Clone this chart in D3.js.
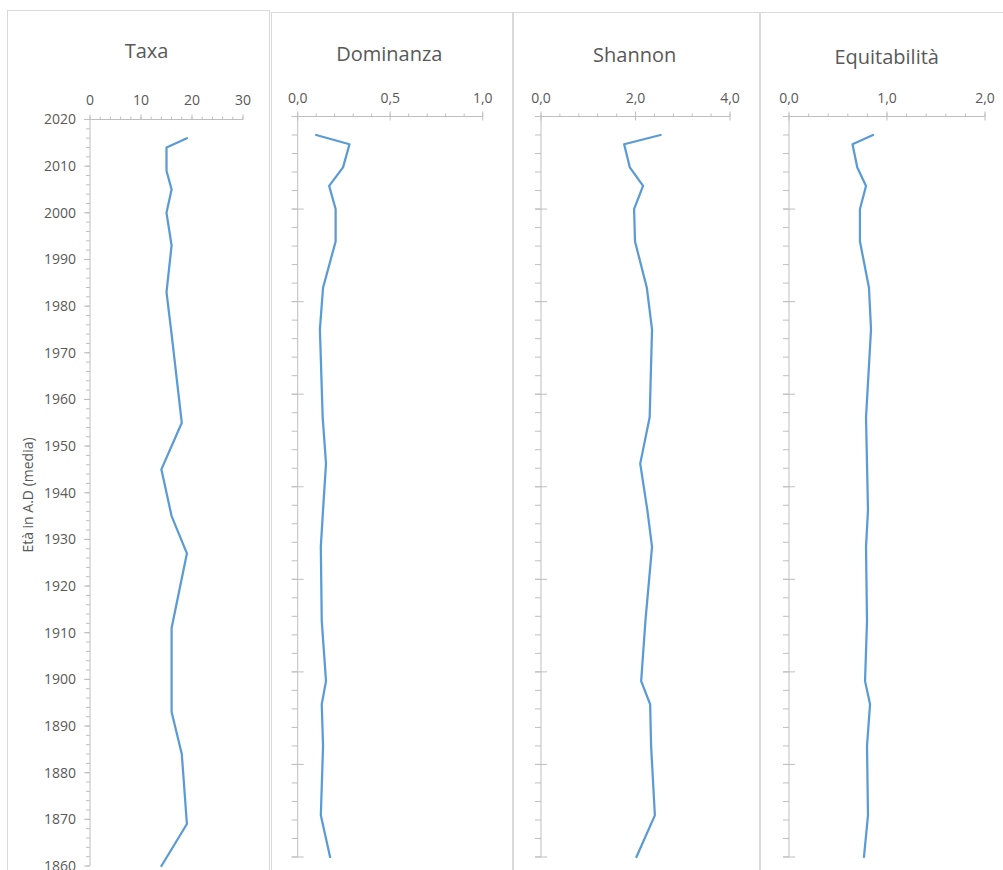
<!DOCTYPE html>
<html>
<head>
<meta charset="utf-8">
<script src="https://cdn.jsdelivr.net/npm/d3@7/dist/d3.min.js"></script>
<style>
  body { margin: 0; background: #fff; }
  svg { display: block; }
  text { font-family: "Open Sans", "Noto Sans", sans-serif; fill: #595959; }
</style>
</head>
<body>
<svg id="chart" width="1003" height="870"></svg>
<script>
// Sample ages (A.D., mean) and diversity indices per sample
const years = [2016, 2014, 2009, 2005, 2000, 1993, 1983, 1974, 1955, 1945, 1935, 1927, 1911, 1898, 1893, 1884, 1869, 1860];
const taxa = [19, 15, 15, 16, 15, 16, 15, 16, 18, 14, 16, 19, 16, 16, 16, 18, 19, 14];
const dominanza = [0.10, 0.28, 0.245, 0.17, 0.205, 0.205, 0.137, 0.12, 0.135, 0.153, 0.137, 0.125, 0.13, 0.153, 0.13, 0.137, 0.125, 0.175];
const shannon = [2.53, 1.76, 1.88, 2.16, 1.97, 1.99, 2.24, 2.35, 2.30, 2.10, 2.25, 2.35, 2.21, 2.12, 2.31, 2.33, 2.41, 2.02];
const equitabilita = [0.857, 0.648, 0.697, 0.786, 0.724, 0.724, 0.816, 0.837, 0.786, 0.796, 0.806, 0.786, 0.796, 0.776, 0.827, 0.796, 0.806, 0.765];

const titles = ["Taxa", "Dominanza", "Shannon", "Equitabilità"];
const yearDomain = [1860, 2020];
const yTickLabels = d3.range(1860, 2021, 10);
const yAxisTitle = "Età in A.D (media)";

const comma1 = v => d3.format(".1f")(v).replace(".", ",");

const panels = [
  { title: titles[0], values: taxa, domain: [0, 30], major: 10, minor: 2, fmt: d3.format("d"),
    box: [7, 10, 262], plot: [90, 243, 119.5, 866], titleX: 146.5, titleY: 58, labelY: 105, first: true },
  { title: titles[1], values: dominanza, domain: [0, 1], major: 0.5, minor: 0.1, fmt: comma1,
    box: [271, 12, 241], plot: [297.7, 482.7, 116.5, 857], titleX: 389.3, titleY: 61, labelY: 103 },
  { title: titles[2], values: shannon, domain: [0, 4], major: 2, minor: 0.4, fmt: comma1,
    box: [513, 12, 246], plot: [541, 730, 116.5, 857], titleX: 634.7, titleY: 61.5, labelY: 103 },
  { title: titles[3], values: equitabilita, domain: [0, 2], major: 1, minor: 0.2, fmt: comma1,
    box: [760, 12, 260], plot: [789, 985, 116.5, 857], titleX: 886.7, titleY: 64, labelY: 103 }
];

const svg = d3.select("#chart");
const axisColor = "#bfbfbf";
const lineColor = "#5b9bd5";

function steps(d0, d1, step) {
  const n = Math.round((d1 - d0) / step);
  return d3.range(n + 1).map(i => d0 + i * step);
}

panels.forEach(p => {
  const [bx, by, bw] = p.box;
  const [x0, x1, y0, y1] = p.plot;

  // panel frame
  svg.append("rect")
    .attr("x", bx + 0.5).attr("y", by + 0.5)
    .attr("width", bw).attr("height", 900)
    .attr("fill", "#fff").attr("stroke", "#d9d9d9").attr("stroke-width", 1);

  const g = svg.append("g");
  const x = d3.scaleLinear().domain(p.domain).range([x0, x1]);
  const y = d3.scaleLinear().domain(yearDomain).range([y1, y0]);

  // title
  g.append("text").attr("x", p.titleX).attr("y", p.titleY)
    .attr("text-anchor", "middle").style("font-size", "20px").text(p.title);

  // top value axis: line, minor ticks, crossing major ticks, labels
  const majorX = steps(p.domain[0], p.domain[1], p.major);
  const minorX = steps(p.domain[0], p.domain[1], p.minor);
  g.append("line").attr("x1", x0).attr("x2", x1).attr("y1", y0).attr("y2", y0)
    .attr("stroke", axisColor);
  g.selectAll(".xminor").data(minorX).join("line")
    .attr("x1", d => x(d)).attr("x2", d => x(d))
    .attr("y1", y0 - 3).attr("y2", y0).attr("stroke", axisColor);
  g.selectAll(".xmajor").data(majorX).join("line")
    .attr("x1", d => x(d)).attr("x2", d => x(d))
    .attr("y1", y0 - 5).attr("y2", p.first ? y0 : y0 + 4).attr("stroke", axisColor);
  g.selectAll(".xlab").data(majorX).join("text")
    .attr("x", d => x(d)).attr("y", p.labelY)
    .attr("text-anchor", "middle").style("font-size", "14px").text(d => p.fmt(d));

  // left age axis
  g.append("line").attr("x1", x0).attr("x2", x0).attr("y1", y0).attr("y2", y1)
    .attr("stroke", axisColor);
  if (p.first) {
    const minorY = steps(yearDomain[0], yearDomain[1], 2);
    g.selectAll(".yminor").data(minorY).join("line")
      .attr("x1", x0 - 4).attr("x2", x0)
      .attr("y1", d => y(d)).attr("y2", d => y(d)).attr("stroke", axisColor);
    g.selectAll(".ymajor").data(yTickLabels).join("line")
      .attr("x1", x0 - 6).attr("x2", x0)
      .attr("y1", d => y(d)).attr("y2", d => y(d)).attr("stroke", axisColor);
    g.selectAll(".ylab").data(yTickLabels).join("text")
      .attr("x", 76).attr("y", d => y(d)).attr("dy", "0.35em")
      .attr("text-anchor", "end").style("font-size", "14px").text(d => d);
    g.append("text")
      .attr("transform", `translate(33, 495) rotate(-90)`)
      .attr("text-anchor", "middle").style("font-size", "14px").text(yAxisTitle);
  } else {
    const minorY = steps(yearDomain[0], yearDomain[1], 4);
    const majorY = steps(yearDomain[0], yearDomain[1], 20);
    g.selectAll(".yminor").data(minorY).join("line")
      .attr("x1", x0 - 6).attr("x2", x0)
      .attr("y1", d => y(d)).attr("y2", d => y(d)).attr("stroke", axisColor);
    g.selectAll(".ymajor").data(majorY).join("line")
      .attr("x1", x0 - 6).attr("x2", x0 + 6)
      .attr("y1", d => y(d)).attr("y2", d => y(d)).attr("stroke", axisColor);
  }

  // profile line
  const line = d3.line().x(d => x(d[1])).y(d => y(d[0]));
  g.append("path")
    .datum(years.map((yr, i) => [yr, p.values[i]]))
    .attr("d", line)
    .attr("fill", "none").attr("stroke", lineColor)
    .attr("stroke-width", 2.25).attr("stroke-linejoin", "round").attr("stroke-linecap", "round");
});
</script>
</body>
</html>
